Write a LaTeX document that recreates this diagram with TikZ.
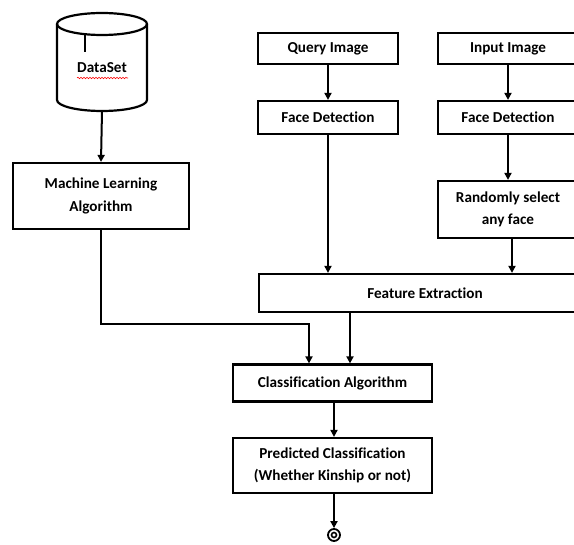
\documentclass[tikz,border=0pt]{standalone}
\usepackage{fontspec}
\setmainfont{Carlito}[Ligatures=CommonOff]
\usetikzlibrary{arrows.meta,decorations.pathmorphing}
\begin{document}
\begin{tikzpicture}[x=1pt,y=-1pt,
  box/.style={draw,line width=2.2pt,fill=white,align=center,inner sep=0pt,font=\bfseries\fontsize{15.2}{22.5}\selectfont},
  conn/.style={line width=2pt,-{Triangle[length=7pt,width=7pt]}},
  line/.style={line width=2pt}]
\useasboundingbox (0,0) rectangle (574,545);
% cylinder
\draw[line width=2.2pt,fill=white] (57,24) -- (57,100) arc[start angle=180,end angle=0,x radius=45,y radius=11] -- (147,24);
\draw[line width=2.2pt] (102,24) ellipse[x radius=45,y radius=11];
\draw[line width=1.6pt] (85,33) -- (85,52);
\node[font=\bfseries\fontsize{15.2}{18}\selectfont] (ds) at (102,68) {DataSet};
\draw[red,line width=0.6pt,decorate,decoration={snake,amplitude=0.7pt,segment length=3pt}] (77,78) -- (128,78);
\coordinate (dsb) at (102,111);
% boxes
\node[box,minimum width=176,minimum height=66] (ml) at (101,196) {Machine Learning\\Algorithm};
\node[box,minimum width=140,minimum height=31] (q) at (328,48.5) {Query Image};
\node[box,minimum width=140,minimum height=33] (fd1) at (328,117.5) {Face Detection};
\node[box,minimum width=140,minimum height=31] (in) at (508,48.5) {Input Image};
\node[box,minimum width=140,minimum height=33] (fd2) at (508,117.5) {Face Detection};
\node[box,minimum width=140,minimum height=57] (rs) at (508,209.5) {Randomly select\\any face};
\node[box,minimum width=332,minimum height=38] (fe) at (425,293) {Feature Extraction};
\node[box,minimum width=199,minimum height=37] (cls) at (332.5,383) {Classification Algorithm};
\node[box,minimum width=199,minimum height=55] (pr) at (332.5,465.5) {Predicted Classification\\(Whether Kinship or not)};
\node[draw,circle,line width=1.8pt,minimum size=12pt,inner sep=0pt] (end) at (334,535) {};
\node[draw,circle,line width=1.6pt,minimum size=5pt,inner sep=0pt] (endi) at (334,535) {};
% connectors
\draw[conn] (dsb) -- (ml.north);
\draw[conn] (q) -- (fd1);
\draw[conn] (in) -- (fd2);
\draw[conn] (fd2) -- (rs);
\draw[conn] (fd1.south) -- (fd1.south |- fe.north);
\draw[conn] ([xshift=4pt]rs.south) -- ([xshift=4pt]rs.south |- fe.north);
\draw[conn] (ml.south) -- (101,324) -| (cls.north -| 309,0);
\draw[conn] (fe.south -| 350,0) -- (cls.north -| 350,0);
\draw[conn] (cls.south -| 334,0) -- (pr.north -| 334,0);
\draw[conn] (pr.south -| 334,0) -- (end.north);
\end{tikzpicture}
\end{document}
